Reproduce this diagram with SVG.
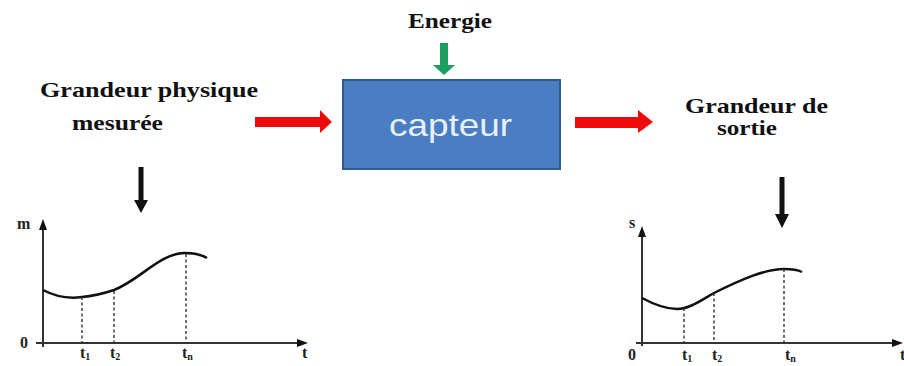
<svg xmlns="http://www.w3.org/2000/svg" width="904" height="366" viewBox="0 0 904 366">
<defs>
<style>
.lbl{font-family:"Liberation Serif","Times New Roman",serif;font-weight:bold;font-size:21px;fill:#111}
.ax{font-family:"Liberation Serif","Times New Roman",serif;font-weight:bold;font-size:16px;fill:#222}
.sub{font-size:10px}
.axis{stroke:#333;stroke-width:2;fill:none}
.curve{stroke:#111;stroke-width:2.5;fill:none}
.dash{stroke:#333;stroke-width:1.4;stroke-dasharray:3 2.5;fill:none}
.red{fill:#ee0a0a}
.blk{fill:#111}
</style>
</defs>
<rect width="904" height="366" fill="#fff"/>

<g id="energie">
<text class="lbl" x="408" y="28" textLength="84" lengthAdjust="spacingAndGlyphs">Energie</text>
</g>

<g id="capteur">
<rect x="343" y="80" width="217" height="89" fill="#4b7dc3" stroke="#2f5a96" stroke-width="2"/>
<text x="389" y="136" font-family="'Liberation Sans',Arial,sans-serif" font-size="32" fill="#e8f0fa" textLength="123" lengthAdjust="spacingAndGlyphs">capteur</text>
</g>

<g id="entree">
<text class="lbl" x="40" y="97" textLength="218" lengthAdjust="spacingAndGlyphs">Grandeur physique</text>
<text class="lbl" x="72" y="130" textLength="91" lengthAdjust="spacingAndGlyphs">mesurée</text>
</g>

<g id="sortie">
<text class="lbl" x="685" y="113" textLength="143" lengthAdjust="spacingAndGlyphs">Grandeur de</text>
<text class="lbl" x="717" y="135" textLength="60" lengthAdjust="spacingAndGlyphs">sortie</text>
</g>

<g id="connectors">
<polygon fill="#1e9e5e" points="440,43 448,43 448,65 455,65 444,75 433,65 440,65"/>
<polygon class="red" points="255,117 320,117 320,110 332,122 320,133 320,127 255,127"/>
<polygon class="red" points="575,117 638,117 638,110 653,122 638,133 638,128 575,128"/>
<polygon class="blk" points="138.5,167 143.5,167 143.5,200 148,200 141,213 134,200 138.5,200"/>
<polygon class="blk" points="779.5,177 784.5,177 784.5,214 789,214 782,228 775,214 779.5,214"/>
</g>

<g id="graphe-entree">
<line class="axis" x1="43" y1="347" x2="43" y2="226"/>
<polygon class="blk" points="43,219 39,230 47,230"/>
<line class="axis" x1="36" y1="343" x2="300" y2="343"/>
<polygon class="blk" points="308,343 297,339 297,347"/>
<path class="curve" d="M43,290 C60,299 75,298 82,297 C95,296 105,293 114,290 C140,280 160,253 185,253 C196,253 202,255 207,258"/>
<line class="dash" x1="82" y1="297" x2="82" y2="343"/>
<line class="dash" x1="114" y1="291" x2="114" y2="343"/>
<line class="dash" x1="186" y1="254" x2="186" y2="343"/>
<text class="ax" x="17" y="229">m</text>
<text class="ax" x="20" y="348">0</text>
<text class="ax" x="80" y="358">t<tspan class="sub" dy="2">1</tspan></text>
<text class="ax" x="110" y="358">t<tspan class="sub" dy="2">2</tspan></text>
<text class="ax" x="182" y="358">t<tspan class="sub" dy="2">n</tspan></text>
<text class="ax" x="302" y="358">t</text>
</g>

<g id="graphe-sortie">
<line class="axis" x1="642" y1="346" x2="642" y2="233"/>
<polygon class="blk" points="642,226 638,237 646,237"/>
<line class="axis" x1="636" y1="343" x2="894" y2="343"/>
<polygon class="blk" points="903,343 892,339 892,347"/>
<path class="curve" d="M642,298 C655,305 665,309 677,309 C690,309 703,299 714,293 C740,280 765,269 784,269 C793,269 798,270 802,272"/>
<line class="dash" x1="684" y1="308" x2="684" y2="343"/>
<line class="dash" x1="714" y1="293" x2="714" y2="343"/>
<line class="dash" x1="784" y1="269" x2="784" y2="343"/>
<text class="ax" x="629" y="228">s</text>
<text class="ax" x="628" y="360">0</text>
<text class="ax" x="682" y="360">t<tspan class="sub" dy="2">1</tspan></text>
<text class="ax" x="712" y="360">t<tspan class="sub" dy="2">2</tspan></text>
<text class="ax" x="785" y="360">t<tspan class="sub" dy="2">n</tspan></text>
<text class="ax" x="900" y="360">t</text>
</g>
</svg>
